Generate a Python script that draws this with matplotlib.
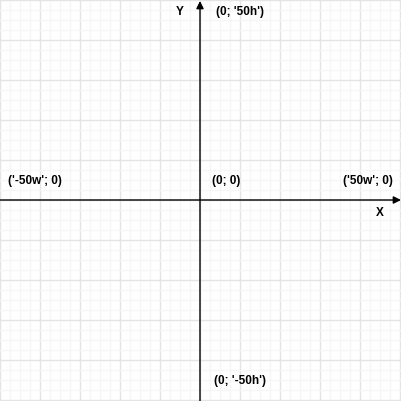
import matplotlib
matplotlib.use("Agg")
import matplotlib.pyplot as plt
import numpy as np

# canvas size in pixels, origin of the drawn axes in the middle
size = 401
origin = (200, 200)

axis_names = ["X", "Y"]
point_labels = ["(0; '50h')", "('-50w'; 0)", "(0; 0)", "('50w'; 0)", "(0; '-50h')"]
# label anchors (left edge, vertical centre) in pixel coords
label_pos = [(216, 12), (8, 181), (212, 181), (343, 181), (214, 381)]
name_pos = [(380, 213), (180, 12)]

fig = plt.figure(figsize=(size / 100, size / 100), dpi=100)
ax = fig.add_axes([0, 0, 1, 1])
ax.set_xlim(0, size)
ax.set_ylim(size, 0)

ax.set_xticks(np.arange(0, size, 40))
ax.set_yticks(np.arange(0, size, 40))
ax.set_xticks(np.arange(0, size, 10), minor=True)
ax.set_yticks(np.arange(0, size, 10), minor=True)
ax.grid(which="minor", color="#f6f6f6", linewidth=1)
ax.grid(which="major", color="#e4e4e4", linewidth=1)
ax.tick_params(which="both", length=0, labelbottom=False, labelleft=False)
for s in ax.spines.values():
    s.set_visible(False)
ax.set_axisbelow(True)

arrow = dict(arrowstyle="-|>", color="black", lw=1, mutation_scale=11, shrinkA=0, shrinkB=0)
ax.annotate("", xy=(size, origin[1]), xytext=(0, origin[1]), arrowprops=arrow)
ax.annotate("", xy=(origin[0], 1), xytext=(origin[0], size), arrowprops=arrow)

font = dict(family="Liberation Sans", fontsize=8.5, fontweight="bold", color="black")
for name, (x, y) in zip(axis_names, name_pos):
    ax.text(x, y, name, ha="center", va="center", **font)
for lab, (x, y) in zip(point_labels, label_pos):
    ax.text(x, y, lab, ha="left", va="center", **font)

fig.savefig("out.png", dpi=100)
